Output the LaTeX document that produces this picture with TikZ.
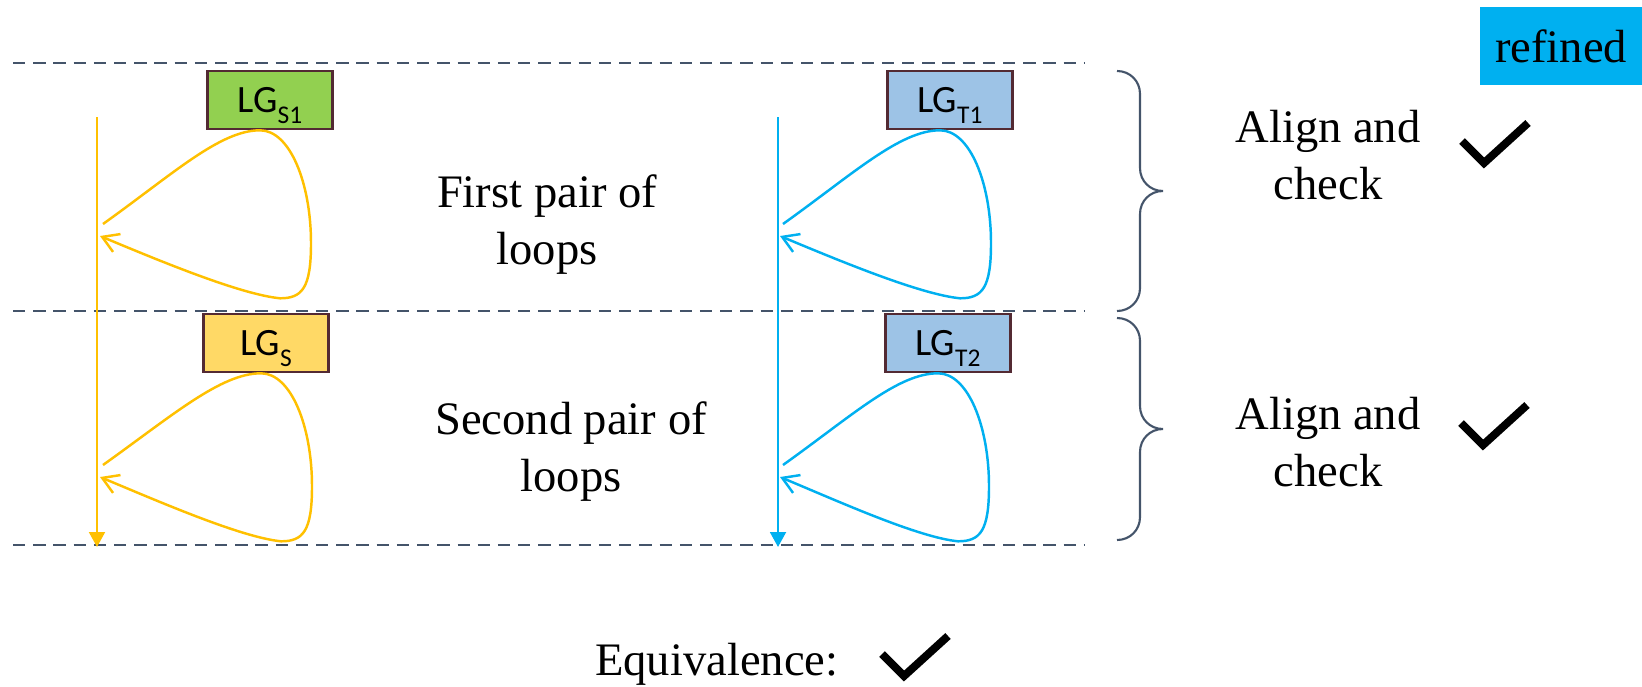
\documentclass[tikz,border=0pt]{standalone}
\usepackage{fontspec}
\setmainfont{Liberation Serif}
\newfontfamily\lgfont{Carlito}
\usetikzlibrary{arrows.meta,positioning}
\definecolor{orng}{HTML}{FFC000}
\definecolor{cyanb}{HTML}{00B0F0}
\definecolor{lggreen}{HTML}{92D050}
\definecolor{lgyellow}{HTML}{FFD966}
\definecolor{lgblue}{HTML}{9DC3E6}
\definecolor{lgedge}{HTML}{532A33}
\definecolor{slate}{HTML}{44546A}
\newcommand\lgsub[1]{\raisebox{-6pt}{\fontsize{14.5}{15}\selectfont #1}}

\begin{document}
\begin{tikzpicture}[x=0.02cm,y=-0.02cm,>=Latex,
 every node/.style={font=\fontsize{26.5}{32.5}\selectfont},
 sep/.style={slate,line width=1.1pt,dash pattern=on 7pt off 4.5pt},
 flow/.style={line width=1.4pt,-{Triangle[length=8.5pt,width=9pt]}},
 loopline/.style={line width=1.4pt,-{Straight Barb[length=9pt,width=11pt]}},
 lgbox/.style={draw=lgedge,line width=1.2pt,minimum width=2.5cm,minimum height=1.17cm,text depth=0pt,font=\lgfont\fontsize{22}{24}\selectfont},
 brace/.style={slate,line width=1.2pt},
 tick/.style={line width=4.5pt},
 txt/.style={align=center}]
\useasboundingbox (0,0) rectangle (1642,686);
\node[fill=cyanb,minimum width=3.24cm,minimum height=1.58cm] (refined) at (1561,46) {refined};
% dashed separators
\foreach \y in {63,311,545} \draw[sep] (13,\y) -- (1084,\y);
% time lines
\coordinate (stop) at (97,117);\coordinate (sbot) at (97,547);
\coordinate (ttop) at (778,117);\coordinate (tbot) at (778,547);
\draw[flow,orng] (stop) -- (sbot);
\draw[flow,cyanb] (ttop) -- (tbot);
% loop boxes
\node[lgbox,fill=lggreen] (lgs1) at (270,100) {LG\lgsub{S1}};
\node[lgbox,fill=lgblue] (lgt1) at (950,100) {LG\lgsub{T1}};
\node[lgbox,fill=lgyellow] (lgs) at (266,343) {LG\lgsub{S}};
\node[lgbox,fill=lgblue] (lgt2) at (948,343) {LG\lgsub{T2}};
% loops
\coordinate (s1out) at (103,224);\coordinate (s1in) at (100,236);
\coordinate (s2out) at (103,465);\coordinate (s2in) at (100,477);
\coordinate (t1out) at (783,224);\coordinate (t1in) at (780,236);
\coordinate (t2out) at (783,465);\coordinate (t2in) at (780,477);
\draw[loopline,orng] (s1out) .. controls +(70,-50) and +(-40,0) .. ([xshift=-0.2cm]lgs1.south) .. controls +(30,0) and +(0,-60) .. ++(51,113) .. controls +(0,45) and +(22,0) .. ++(-31,55) .. controls +(-40,-4) and +(60,25) .. (s1in);
\draw[loopline,orng] (s2out) .. controls +(70,-50) and +(-40,0) .. ([xshift=-0.1cm]lgs.south) .. controls +(30,0) and +(0,-60) .. ++(51,113) .. controls +(0,45) and +(22,0) .. ++(-31,55) .. controls +(-40,-4) and +(60,25) .. (s2in);
\draw[loopline,cyanb] (t1out) .. controls +(70,-50) and +(-40,0) .. ([xshift=-0.2cm]lgt1.south) .. controls +(30,0) and +(0,-60) .. ++(51,113) .. controls +(0,45) and +(22,0) .. ++(-31,55) .. controls +(-40,-4) and +(60,25) .. (t1in);
\draw[loopline,cyanb] (t2out) .. controls +(70,-50) and +(-40,0) .. ([xshift=-0.2cm]lgt2.south) .. controls +(30,0) and +(0,-60) .. ++(51,113) .. controls +(0,45) and +(22,0) .. ++(-31,55) .. controls +(-40,-4) and +(60,25) .. (t2in);
\node[txt] (pair1) at (547,225) {First pair of\\loops};
\node[txt] (pair2) at (571,452) {Second pair of\\loops};
% braces
\draw[brace] (1117,71) .. controls (1130,71) and (1140,81) .. (1140,94) -- (1140,168) .. controls (1140,181) and (1150,191) .. (1163,191) .. controls (1150,191) and (1140,201) .. (1140,214) -- (1140,288) .. controls (1140,301) and (1130,311) .. (1117,311);
\draw[brace] (1117,318) .. controls (1130,318) and (1140,328) .. (1140,341) -- (1140,406) .. controls (1140,419) and (1150,429) .. (1163,429) .. controls (1150,429) and (1140,439) .. (1140,452) -- (1140,517) .. controls (1140,530) and (1130,540) .. (1117,540);
\node[txt] (align1) at (1328,155) {Align and\\check};
\node[txt] (align2) at (1328,442) {Align and\\check};
\node[anchor=base west] (equiv) at (589,675) {Equivalence:};
% ticks
\coordinate (chk1) at (1484,163);\coordinate (chk2) at (1483,445);\coordinate (chk3) at (904,676);
\foreach \c in {chk1,chk2,chk3} \draw[tick] (\c) ++(-22,-22) -- (\c) -- ++(44,-40);
\end{tikzpicture}
\end{document}
